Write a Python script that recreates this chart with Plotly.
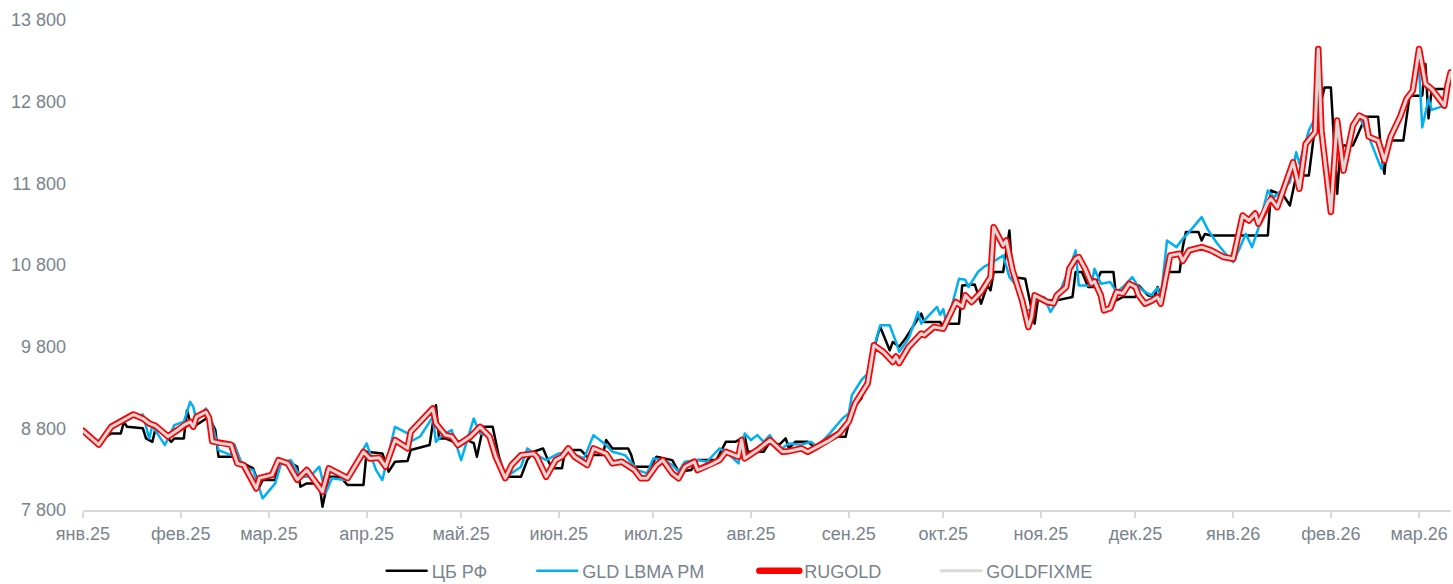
import plotly.graph_objects as go

# ---------------- data ----------------
month_ticks = ["2025-01-01", "2025-02-01", "2025-03-01", "2025-04-01", "2025-05-01",
               "2025-06-01", "2025-07-01", "2025-08-01", "2025-09-01", "2025-10-01",
               "2025-11-01", "2025-12-01", "2026-01-01", "2026-02-01", "2026-03-01"]
month_labels = ["янв.25", "фев.25", "мар.25", "апр.25", "май.25", "июн.25", "июл.25",
                "авг.25", "сен.25", "окт.25", "ноя.25", "дек.25", "янв.26", "фев.26", "мар.26"]
y_ticks = [7800, 8800, 9800, 10800, 11800, 12800, 13800]
y_labels = ["7 800", "8 800", "9 800", "10 800", "11 800", "12 800", "13 800"]
series_names = ["ЦБ РФ", "GLD LBMA PM", "RUGOLD", "GOLDFIXME"]

cbr_dates = [
    "2025-01-01", "2025-01-05", "2025-01-10", "2025-01-13", "2025-01-14", "2025-01-15", "2025-01-20",
    "2025-01-21", "2025-01-23", "2025-01-24", "2025-01-26", "2025-01-29", "2025-01-30", "2025-02-02",
    "2025-02-03", "2025-02-04", "2025-02-06", "2025-02-10", "2025-02-12", "2025-02-13", "2025-02-17",
    "2025-02-18", "2025-02-20", "2025-02-24", "2025-02-26", "2025-02-27", "2025-03-03", "2025-03-04",
    "2025-03-08", "2025-03-10", "2025-03-11", "2025-03-13", "2025-03-17", "2025-03-18", "2025-03-20",
    "2025-03-24", "2025-03-25", "2025-03-26", "2025-03-31", "2025-04-01", "2025-04-06", "2025-04-08",
    "2025-04-10", "2025-04-14", "2025-04-15", "2025-04-21", "2025-04-22", "2025-04-23", "2025-04-24",
    "2025-04-26", "2025-04-29", "2025-05-03", "2025-05-05", "2025-05-06", "2025-05-08", "2025-05-11",
    "2025-05-13", "2025-05-15", "2025-05-20", "2025-05-22", "2025-05-24", "2025-05-27", "2025-05-29",
    "2025-05-30", "2025-06-02", "2025-06-03", "2025-06-08", "2025-06-10", "2025-06-11", "2025-06-15",
    "2025-06-16", "2025-06-18", "2025-06-23", "2025-06-24", "2025-06-25", "2025-06-30", "2025-07-02",
    "2025-07-07", "2025-07-09", "2025-07-13", "2025-07-15", "2025-07-21", "2025-07-24", "2025-07-27",
    "2025-07-30", "2025-07-31", "2025-08-05", "2025-08-07", "2025-08-10", "2025-08-12", "2025-08-13",
    "2025-08-15", "2025-08-19", "2025-08-21", "2025-08-24", "2025-08-27", "2025-08-31", "2025-09-02",
    "2025-09-05", "2025-09-07", "2025-09-10", "2025-09-11", "2025-09-14", "2025-09-15", "2025-09-17",
    "2025-09-19", "2025-09-24", "2025-09-25", "2025-09-30", "2025-10-01", "2025-10-02", "2025-10-06",
    "2025-10-07", "2025-10-11", "2025-10-13", "2025-10-15", "2025-10-16", "2025-10-17", "2025-10-20",
    "2025-10-22", "2025-10-23", "2025-10-27", "2025-10-30", "2025-10-31", "2025-11-06", "2025-11-11",
    "2025-11-12", "2025-11-14", "2025-11-16", "2025-11-18", "2025-11-20", "2025-11-24", "2025-11-25",
    "2025-11-27", "2025-12-01", "2025-12-02", "2025-12-05", "2025-12-07", "2025-12-08", "2025-12-09",
    "2025-12-10", "2025-12-11", "2025-12-15", "2025-12-16", "2025-12-17", "2025-12-21", "2025-12-22",
    "2025-12-23", "2025-12-25", "2026-01-12", "2026-01-13", "2026-01-17", "2026-01-19", "2026-01-21",
    "2026-01-25", "2026-01-26", "2026-01-27", "2026-01-30", "2026-02-01", "2026-02-03", "2026-02-04",
    "2026-02-05", "2026-02-08", "2026-02-09", "2026-02-12", "2026-02-16", "2026-02-17", "2026-02-18",
    "2026-02-19", "2026-02-24", "2026-02-25", "2026-02-26", "2026-03-02", "2026-03-03", "2026-03-04",
    "2026-03-05", "2026-03-09", "2026-03-10"]
cbr_values = [
    8760, 8620, 8738, 8738, 8880, 8818, 8800,
    8677, 8635, 8790, 8760, 8635, 8677, 8677,
    9022, 8880, 8840, 8941, 8780, 8452, 8452,
    8600, 8390, 8310, 8085, 8167, 8167, 8390,
    8370, 8330, 8085, 8126, 8126, 7841, 8207,
    8207, 8146, 8106, 8106, 8513, 8493, 8269,
    8391, 8400, 8534, 8595, 8860, 9084, 8677,
    8677, 8630, 8656, 8620, 8452, 8818, 8818,
    8452, 8207, 8207, 8411, 8513, 8554, 8371,
    8310, 8310, 8534, 8534, 8452, 8472, 8472,
    8656, 8554, 8554, 8472, 8330, 8330, 8452,
    8411, 8269, 8289, 8411, 8411, 8635, 8635,
    8700, 8513, 8513, 8635, 8600, 8677, 8554,
    8635, 8635, 8574, 8635, 8696, 8696, 9022,
    9165, 9430, 9919, 10041, 9756, 9858, 9800,
    9900, 10204, 10102, 10102, 10041, 10082, 10082,
    10550, 10560, 10326, 10550, 10490, 10714, 10714,
    11223, 10652, 10632, 10082, 10367, 10367, 10408,
    10714, 10714, 10530, 10530, 10714, 10714, 10367,
    10408, 10408, 10550, 10428, 10408, 10530, 10428,
    10560, 10714, 10714, 11019, 11203, 11203, 11100,
    11180, 11162, 11162, 11712, 11650, 11529, 11895,
    11895, 12200, 12507, 12975, 12975, 11672, 12200,
    12262, 12262, 12350, 12616, 12616, 12160, 11916,
    12323, 12323, 12630, 12873, 12873, 13260, 12596,
    12955, 12955, 12894]

gld_dates = [
    "2025-01-01", "2025-01-06", "2025-01-10", "2025-01-13", "2025-01-17", "2025-01-20", "2025-01-22",
    "2025-01-23", "2025-01-27", "2025-01-30", "2025-02-02", "2025-02-04", "2025-02-05", "2025-02-06",
    "2025-02-09", "2025-02-11", "2025-02-13", "2025-02-17", "2025-02-18", "2025-02-21", "2025-02-24",
    "2025-02-27", "2025-03-03", "2025-03-05", "2025-03-08", "2025-03-11", "2025-03-14", "2025-03-17",
    "2025-03-19", "2025-03-21", "2025-03-25", "2025-03-27", "2025-04-01", "2025-04-04", "2025-04-06",
    "2025-04-10", "2025-04-14", "2025-04-15", "2025-04-18", "2025-04-22", "2025-04-23", "2025-04-25",
    "2025-04-28", "2025-05-01", "2025-05-05", "2025-05-07", "2025-05-10", "2025-05-12", "2025-05-15",
    "2025-05-17", "2025-05-20", "2025-05-22", "2025-05-25", "2025-05-28", "2025-06-01", "2025-06-04",
    "2025-06-09", "2025-06-12", "2025-06-16", "2025-06-18", "2025-06-22", "2025-06-26", "2025-06-29",
    "2025-07-01", "2025-07-04", "2025-07-07", "2025-07-09", "2025-07-11", "2025-07-15", "2025-07-18",
    "2025-07-22", "2025-07-25", "2025-07-28", "2025-07-30", "2025-08-01", "2025-08-03", "2025-08-05",
    "2025-08-07", "2025-08-09", "2025-08-11", "2025-08-13", "2025-08-17", "2025-08-20", "2025-08-22",
    "2025-08-26", "2025-08-30", "2025-09-01", "2025-09-02", "2025-09-05", "2025-09-07", "2025-09-09",
    "2025-09-11", "2025-09-14", "2025-09-16", "2025-09-17", "2025-09-20", "2025-09-23", "2025-09-24",
    "2025-09-26", "2025-09-29", "2025-09-30", "2025-10-01", "2025-10-02", "2025-10-03", "2025-10-06",
    "2025-10-08", "2025-10-09", "2025-10-12", "2025-10-14", "2025-10-16", "2025-10-20", "2025-10-22",
    "2025-10-24", "2025-10-27", "2025-10-29", "2025-10-31", "2025-11-02", "2025-11-04", "2025-11-06",
    "2025-11-08", "2025-11-10", "2025-11-12", "2025-11-13", "2025-11-17", "2025-11-18", "2025-11-20",
    "2025-11-23", "2025-11-25", "2025-11-27", "2025-11-30", "2025-12-02", "2025-12-04", "2025-12-06",
    "2025-12-08", "2025-12-09", "2025-12-11", "2025-12-14", "2025-12-16", "2025-12-18", "2025-12-22",
    "2025-12-24", "2025-12-27", "2025-12-30", "2026-01-01", "2026-01-03", "2026-01-05", "2026-01-07",
    "2026-01-09", "2026-01-12", "2026-01-14", "2026-01-19", "2026-01-21", "2026-01-22", "2026-01-25",
    "2026-01-27", "2026-01-28", "2026-01-29", "2026-02-01", "2026-02-03", "2026-02-05", "2026-02-08",
    "2026-02-10", "2026-02-13", "2026-02-17", "2026-02-20", "2026-02-23", "2026-02-25", "2026-02-27",
    "2026-03-01", "2026-03-02", "2026-03-04", "2026-03-05", "2026-03-09", "2026-03-10", "2026-03-11"]
gld_values = [
    8760, 8610, 8800, 8860, 8940, 8970, 8677,
    8830, 8595, 8839, 8880, 9124, 9063, 8900,
    9043, 8860, 8534, 8472, 8595, 8310, 8290,
    7943, 8126, 8390, 8410, 8207, 8207, 8330,
    8004, 8188, 8167, 8269, 8615, 8289, 8167,
    8818, 8738, 8640, 8700, 8941, 8635, 8720,
    8778, 8411, 8921, 8738, 8700, 8534, 8207,
    8250, 8330, 8554, 8472, 8411, 8493, 8510,
    8432, 8717, 8595, 8513, 8472, 8289, 8249,
    8432, 8420, 8350, 8269, 8391, 8411, 8391,
    8554, 8480, 8371, 8738, 8656, 8717, 8635,
    8717, 8574, 8560, 8615, 8600, 8635, 8574,
    8738, 8921, 8982, 9206, 9389, 9471, 9796,
    10062, 10062, 9858, 9735, 9899, 10225, 10082,
    10163, 10286, 10190, 10260, 10082, 10200, 10632,
    10620, 10530, 10714, 10780, 10820, 10917, 10652,
    10560, 10245, 10245, 10408, 10408, 10225, 10347,
    10571, 10755, 10979, 10550, 10550, 10755, 10571,
    10591, 10470, 10530, 10652, 10530, 10470, 10428,
    10520, 10380, 11101, 11019, 11120, 11203, 11386,
    11230, 11060, 10920, 10835, 11000, 11182, 11019,
    11250, 11712, 11630, 11813, 12180, 12040, 12445,
    12600, 13420, 12450, 11470, 12540, 12000, 12480,
    12620, 12372, 11980, 12372, 12616, 12833, 12935,
    13200, 12486, 12833, 12700, 12751, 12996, 13150]

rugold_dates = [
    "2025-01-01", "2025-01-06", "2025-01-10", "2025-01-13", "2025-01-17", "2025-01-20", "2025-01-22",
    "2025-01-24", "2025-01-28", "2025-01-31", "2025-02-02", "2025-02-04", "2025-02-05", "2025-02-06",
    "2025-02-09", "2025-02-10", "2025-02-11", "2025-02-14", "2025-02-17", "2025-02-19", "2025-02-21",
    "2025-02-25", "2025-02-26", "2025-03-02", "2025-03-04", "2025-03-07", "2025-03-10", "2025-03-13",
    "2025-03-16", "2025-03-18", "2025-03-20", "2025-03-23", "2025-03-26", "2025-03-31", "2025-04-02",
    "2025-04-05", "2025-04-07", "2025-04-10", "2025-04-14", "2025-04-15", "2025-04-18", "2025-04-22",
    "2025-04-23", "2025-04-26", "2025-04-28", "2025-04-30", "2025-05-04", "2025-05-07", "2025-05-10",
    "2025-05-12", "2025-05-15", "2025-05-17", "2025-05-20", "2025-05-24", "2025-05-25", "2025-05-28",
    "2025-05-31", "2025-06-02", "2025-06-04", "2025-06-06", "2025-06-10", "2025-06-12", "2025-06-16",
    "2025-06-18", "2025-06-21", "2025-06-25", "2025-06-27", "2025-06-29", "2025-07-02", "2025-07-04",
    "2025-07-07", "2025-07-09", "2025-07-11", "2025-07-14", "2025-07-15", "2025-07-19", "2025-07-22",
    "2025-07-24", "2025-07-28", "2025-07-29", "2025-07-30", "2025-08-03", "2025-08-07", "2025-08-11",
    "2025-08-13", "2025-08-17", "2025-08-19", "2025-08-21", "2025-08-26", "2025-08-29", "2025-09-01",
    "2025-09-03", "2025-09-07", "2025-09-09", "2025-09-12", "2025-09-15", "2025-09-16", "2025-09-17",
    "2025-09-20", "2025-09-24", "2025-09-25", "2025-09-28", "2025-10-01", "2025-10-02", "2025-10-05",
    "2025-10-07", "2025-10-08", "2025-10-10", "2025-10-13", "2025-10-16", "2025-10-17", "2025-10-20",
    "2025-10-21", "2025-10-23", "2025-10-26", "2025-10-28", "2025-10-29", "2025-10-30", "2025-11-03",
    "2025-11-05", "2025-11-06", "2025-11-09", "2025-11-10", "2025-11-12", "2025-11-13", "2025-11-15",
    "2025-11-17", "2025-11-18", "2025-11-20", "2025-11-21", "2025-11-23", "2025-11-25", "2025-11-27",
    "2025-11-29", "2025-12-01", "2025-12-02", "2025-12-04", "2025-12-06", "2025-12-08", "2025-12-09",
    "2025-12-12", "2025-12-15", "2025-12-16", "2025-12-18", "2025-12-22", "2025-12-25", "2025-12-29",
    "2026-01-01", "2026-01-04", "2026-01-06", "2026-01-08", "2026-01-09", "2026-01-12", "2026-01-13",
    "2026-01-15", "2026-01-20", "2026-01-22", "2026-01-24", "2026-01-27", "2026-01-28", "2026-01-29",
    "2026-02-01", "2026-02-03", "2026-02-05", "2026-02-08", "2026-02-10", "2026-02-12", "2026-02-13",
    "2026-02-16", "2026-02-18", "2026-02-20", "2026-02-23", "2026-02-25", "2026-02-27", "2026-03-01",
    "2026-03-03", "2026-03-05", "2026-03-09", "2026-03-10", "2026-03-11"]
rugold_values = [
    8770, 8600, 8820, 8880, 8970, 8920, 8860,
    8830, 8700, 8780, 8840, 8880, 8820, 8940,
    9000, 8930, 8640, 8615, 8600, 8370, 8350,
    8065, 8190, 8230, 8410, 8370, 8170, 8290,
    8125, 8024, 8310, 8250, 8190, 8510, 8430,
    8440, 8330, 8656, 8555, 8757, 8880, 9043,
    8860, 8717, 8700, 8595, 8700, 8818, 8700,
    8450, 8190, 8350, 8470, 8490, 8452, 8207,
    8411, 8452, 8554, 8452, 8350, 8554, 8490,
    8371, 8390, 8289, 8188, 8188, 8350, 8411,
    8249, 8188, 8330, 8391, 8289, 8350, 8411,
    8513, 8452, 8656, 8432, 8534, 8656, 8513,
    8520, 8554, 8513, 8554, 8656, 8738, 8880,
    9105, 9349, 9817, 9735, 9613, 9680, 9600,
    9796, 9960, 9940, 10041, 10021, 10100, 10347,
    10290, 10428, 10347, 10469, 10652, 11263, 11040,
    11100, 10734, 10367, 10041, 10163, 10428, 10347,
    10330, 10428, 10530, 10755, 10877, 10897, 10755,
    10571, 10600, 10428, 10245, 10270, 10469, 10450,
    10571, 10530, 10428, 10326, 10360, 10408, 10326,
    10917, 10938, 10850, 10979, 11019, 10979, 10897,
    10877, 11406, 11345, 11430, 11305, 11569, 11610,
    11508, 12058, 11733, 12283, 12425, 13444, 12450,
    11450, 12568, 11956, 12507, 12629, 12590, 12372,
    12323, 12079, 12372, 12616, 12833, 12935, 13444,
    13017, 12955, 12751, 12996, 13158]

goldfixme_dates = list(rugold_dates)
goldfixme_values = [
    8770, 8600, 8820, 8880, 8970, 8920, 8860,
    8830, 8700, 8780, 8840, 8880, 8820, 8940,
    9000, 8930, 8640, 8615, 8600, 8370, 8350,
    8065, 8190, 8230, 8410, 8370, 8170, 8290,
    8125, 8024, 8310, 8250, 8190, 8510, 8430,
    8440, 8330, 8656, 8555, 8757, 8880, 9043,
    8860, 8717, 8700, 8595, 8700, 8818, 8700,
    8450, 8190, 8350, 8470, 8490, 8452, 8207,
    8411, 8452, 8554, 8452, 8350, 8554, 8490,
    8371, 8390, 8289, 8188, 8188, 8350, 8411,
    8249, 8188, 8330, 8391, 8289, 8350, 8411,
    8513, 8452, 8656, 8432, 8534, 8656, 8513,
    8520, 8554, 8513, 8554, 8656, 8738, 8880,
    9105, 9349, 9817, 9735, 9613, 9680, 9600,
    9796, 9960, 9940, 10041, 10021, 10100, 10347,
    10290, 10428, 10347, 10469, 10652, 11263, 11040,
    11100, 10734, 10367, 10041, 10163, 10428, 10347,
    10330, 10428, 10530, 10755, 10877, 10897, 10755,
    10571, 10600, 10428, 10245, 10270, 10469, 10450,
    10571, 10530, 10428, 10326, 10360, 10408, 10326,
    10917, 10938, 10850, 10979, 11019, 10979, 10897,
    10877, 11406, 11345, 11430, 11305, 11569, 11610,
    11508, 12058, 11733, 12283, 12425, 13444, 12450,
    11450, 12568, 11956, 12507, 12629, 12590, 12372,
    12323, 12079, 12372, 12616, 12833, 12935, 13444,
    13017, 12955, 12751, 12996, 13158]

# ---------------- figure ----------------
FONT = "Liberation Sans, Arial, sans-serif"
TXT = "#7a838d"
NB = "\u00a0"
pads = [8, 9, 10, 0]   # legend spacing (non-breaking spaces after each name)

fig = go.Figure()
fig.add_trace(go.Scatter(x=cbr_dates, y=cbr_values, name=series_names[0] + NB * pads[0],
                         mode="lines", line=dict(color="#000000", width=2.5)))
fig.add_trace(go.Scatter(x=gld_dates, y=gld_values, name=series_names[1] + NB * pads[1],
                         mode="lines", line=dict(color="#00B0F0", width=2.5)))
fig.add_trace(go.Scatter(x=rugold_dates, y=rugold_values, name=series_names[2] + NB * pads[2],
                         mode="lines", line=dict(color="#FF0000", width=6.5)))
fig.add_trace(go.Scatter(x=goldfixme_dates, y=goldfixme_values, name=series_names[3] + NB * pads[3],
                         mode="lines", line=dict(color="#D9D9D9", width=3)))

fig.update_layout(
    width=1453, height=584,
    margin=dict(l=83, r=2, t=20, b=74, autoexpand=False),
    paper_bgcolor="white", plot_bgcolor="white",
    font=dict(family=FONT, size=18, color=TXT),
    showlegend=True,
    legend=dict(orientation="h", x=0.48, xanchor="center", yref="container",
                y=0.022, yanchor="middle", font=dict(size=18, color=TXT),
                itemwidth=40, traceorder="normal",
                bgcolor="rgba(0,0,0,0)"),
    xaxis=dict(type="date", range=["2025-01-01", "2026-03-11 03:00"],
               tickvals=month_ticks, ticktext=month_labels, automargin=False,
               showgrid=False, zeroline=False,
               showline=True, linecolor="#D9D9D9", linewidth=2,
               ticks="outside", ticklen=6, tickwidth=2, tickcolor="#D9D9D9",
               tickfont=dict(size=18, color=TXT, family=FONT)),
    yaxis=dict(range=[7800, 13800], tickvals=y_ticks, ticktext=y_labels,
               automargin=False,
               showgrid=False, zeroline=False, showline=False, ticks="",
               ticklabelstandoff=16,
               tickfont=dict(size=18, color=TXT, family=FONT)),
)

post = (
    "document.body.style.margin='0';document.body.style.overflow='hidden';"
    "var s=document.createElement('style');"
    "s.innerHTML='.js-line{stroke-linejoin:round !important;stroke-linecap:round !important;}';"
    "document.head.appendChild(s);"
)
fig.write_html("out.html", config={"displayModeBar": False}, post_script=post)
